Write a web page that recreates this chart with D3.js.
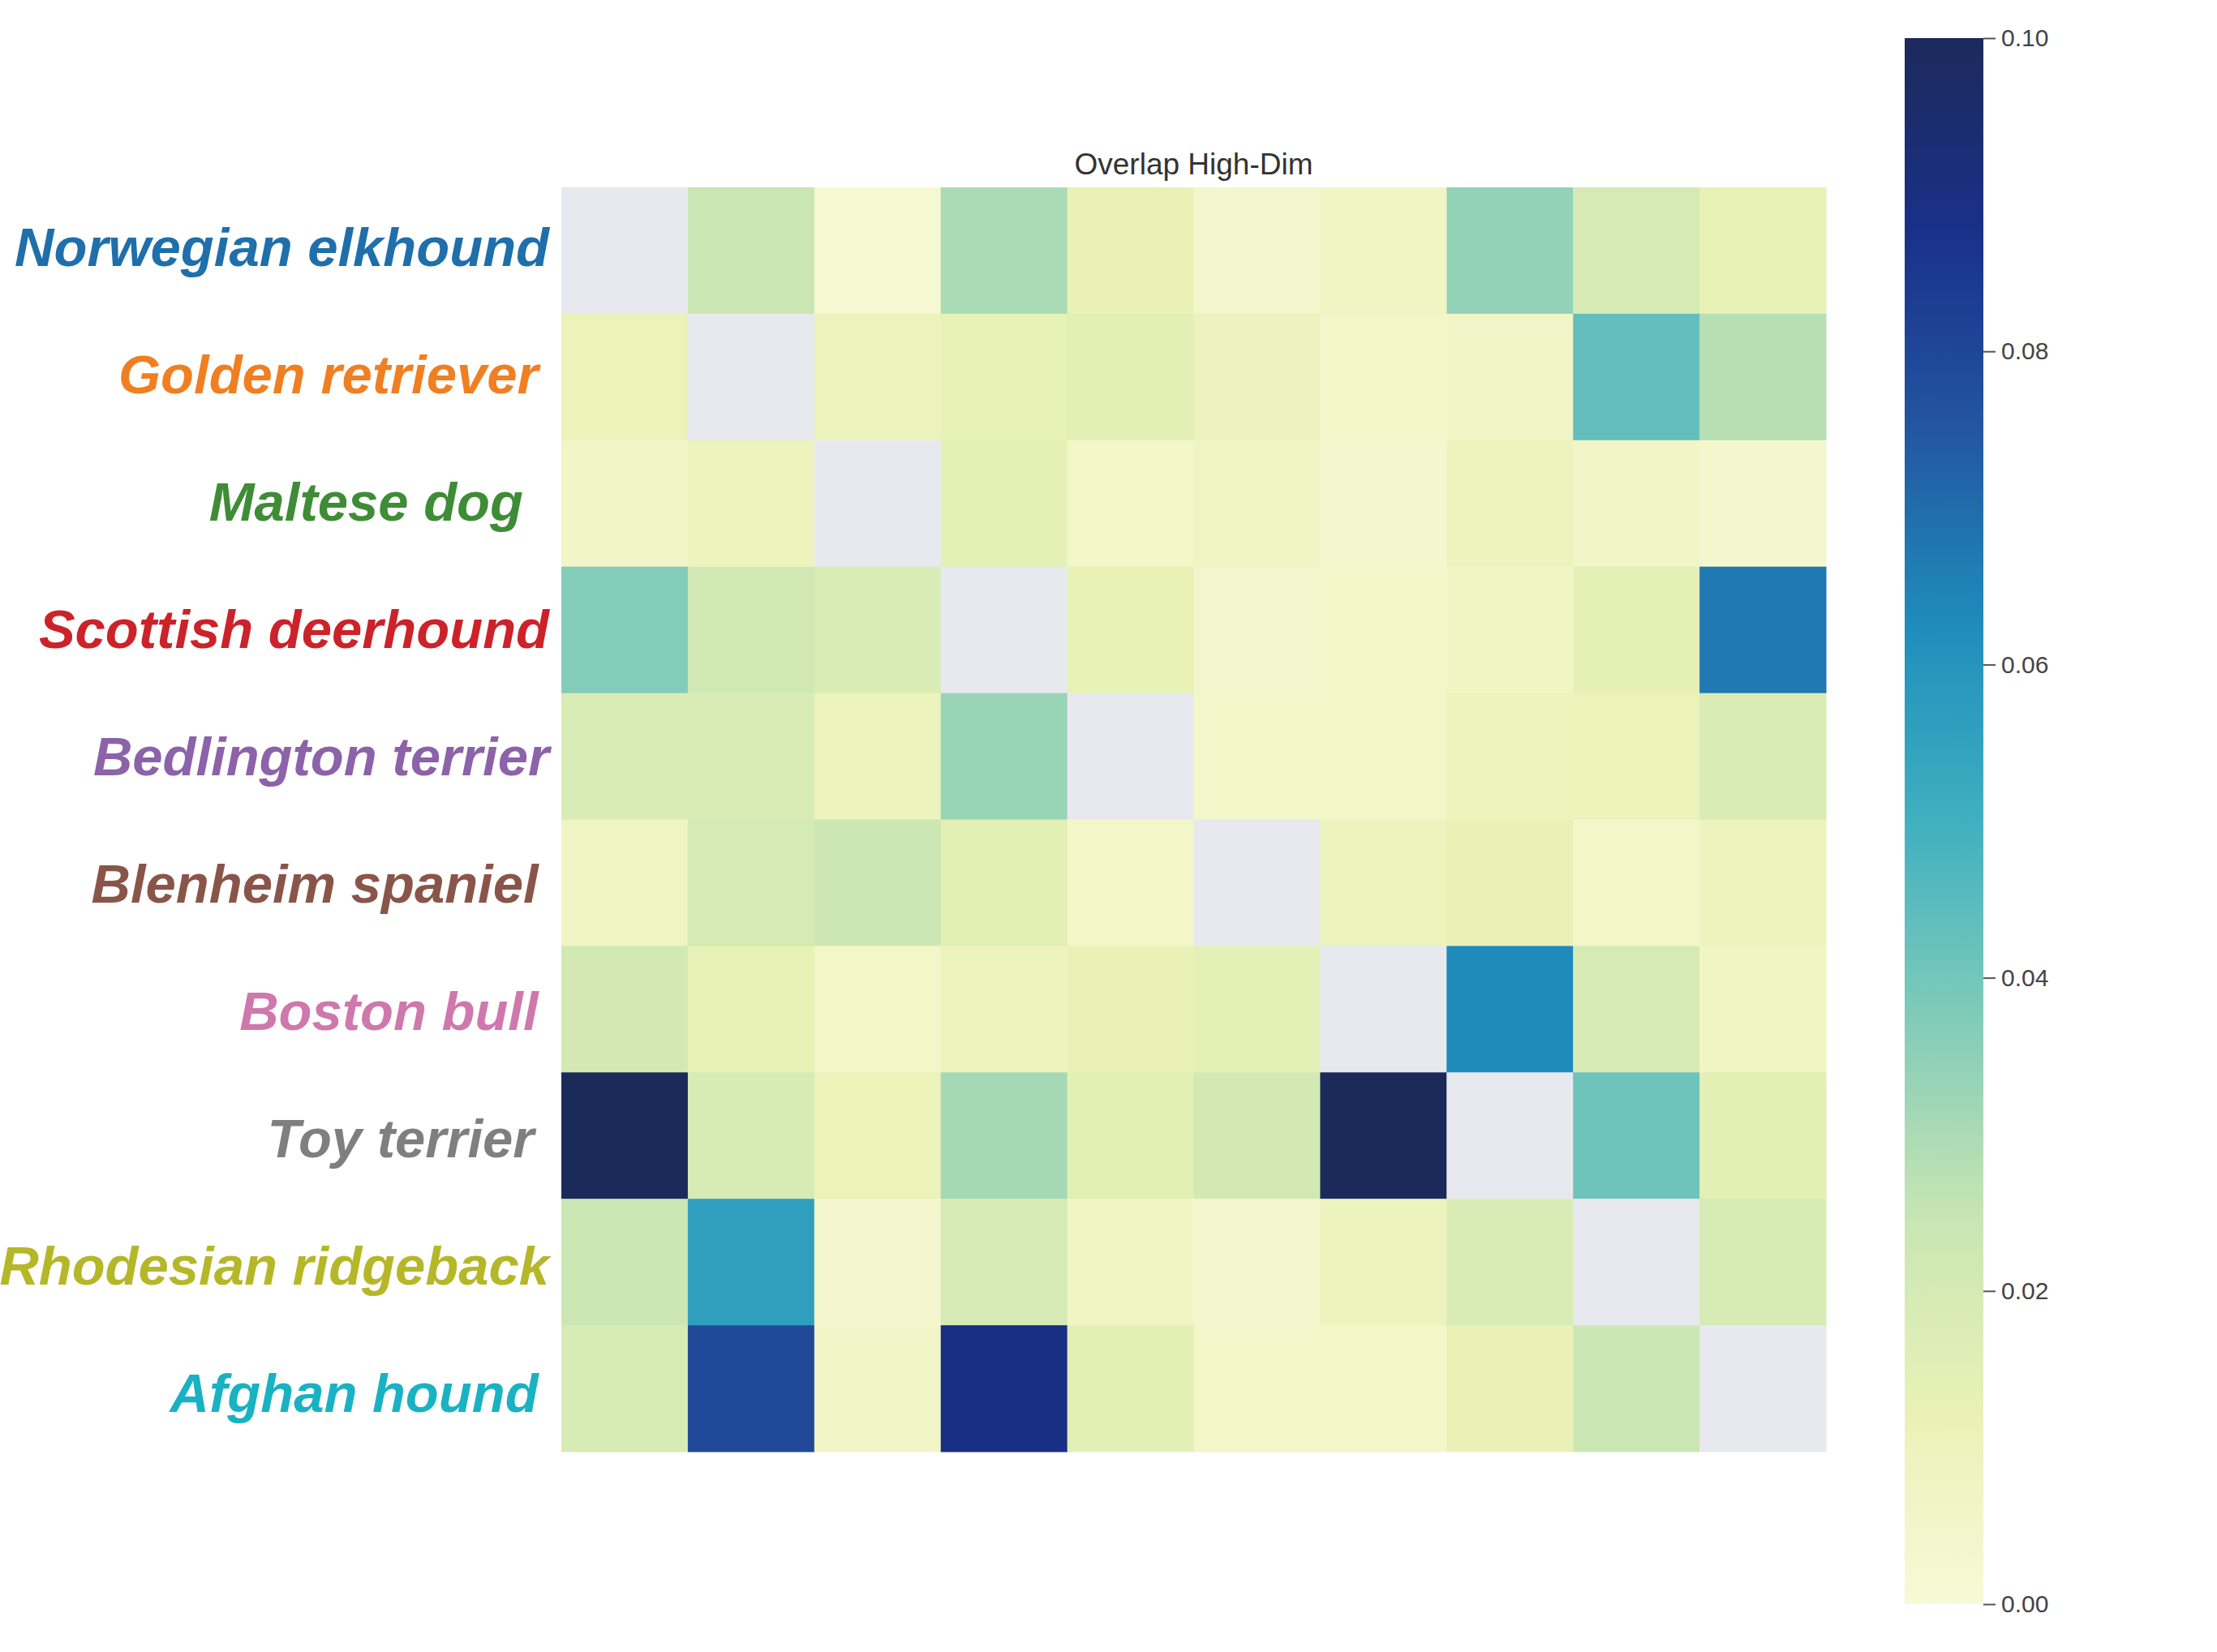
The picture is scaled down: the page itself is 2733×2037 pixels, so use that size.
<!DOCTYPE html>
<html>
<head>
<meta charset="utf-8">
<script src="https://cdn.jsdelivr.net/npm/d3@7"></script>
<style>
  body { margin: 0; background: #fff; }
  text { font-family: "Liberation Sans", Arial, sans-serif; }
</style>
</head>
<body>
<div id="chart"></div>
<script>
// breeds, top to bottom (and left to right for columns)
var breeds = ["Norwegian elkhound", "Golden retriever\u2009", "Maltese dog \u2009", "Scottish deerhound",
    "Bedlington terrier", "Blenheim spaniel\u2009", "Boston bull\u2009", "Toy terrier ", "Rhodesian ridgeback", "Afghan hound\u2009"];
var breedColors = ["#1f6fab", "#f07f22", "#3f8c37", "#cc2229", "#8c62aa", "#8a5549",
    "#cf78ad", "#7f7f7f", "#b6b728", "#19b2c3"];

// overlap values, null on the diagonal
var overlap = [
    [null, 0.024, 0.002, 0.030, 0.012, 0.004, 0.007, 0.034, 0.020, 0.013],
    [0.011, null, 0.010, 0.013, 0.015, 0.009, 0.005, 0.006, 0.043, 0.028],
    [0.006, 0.010, null, 0.014, 0.005, 0.008, 0.003, 0.010, 0.006, 0.003],
    [0.037, 0.022, 0.018, null, 0.013, 0.004, 0.005, 0.007, 0.014, 0.067],
    [0.018, 0.018, 0.010, 0.033, null, 0.005, 0.005, 0.010, 0.011, 0.018],
    [0.008, 0.020, 0.023, 0.015, 0.005, null, 0.010, 0.012, 0.005, 0.010],
    [0.021, 0.013, 0.005, 0.010, 0.012, 0.014, null, 0.063, 0.020, 0.007],
    [0.100, 0.019, 0.011, 0.031, 0.015, 0.021, 0.100, null, 0.041, 0.015],
    [0.023, 0.056, 0.003, 0.020, 0.007, 0.004, 0.010, 0.018, null, 0.019],
    [0.019, 0.079, 0.006, 0.089, 0.015, 0.005, 0.005, 0.012, 0.023, null]
];

var cbTicks = [0, 0.02, 0.04, 0.06, 0.08, 0.10];
var title = "Overlap High-Dim";

var W = 2733, H = 2037;
var svg = d3.select("#chart").append("svg")
    .attr("width", W)
    .attr("height", H);

svg.append("rect").attr("width", W).attr("height", H).attr("fill", "#fff");

// YlGnBu-like ramp, slightly muted like the reference
var ramp = ["#f8f9d6", "#e9f1b6", "#c7e5b3", "#80cbb9", "#40b0c0", "#1f8dbc", "#2356a0", "#19308a", "#1c2a5a"];
var color = d3.scaleLinear()
    .domain(d3.range(ramp.length).map(function (i) { return 0.1 * i / (ramp.length - 1); }))
    .range(ramp)
    .clamp(true);

var x = d3.scaleBand().domain(d3.range(breeds.length)).range([692, 2251]);
var y = d3.scaleBand().domain(d3.range(breeds.length)).range([231, 1790]);
// labels sit on a slightly wider pitch than the cells
var yLab = d3.scalePoint().domain(d3.range(breeds.length)).range([305, 1718]);

var cells = [];
overlap.forEach(function (row, r) {
    row.forEach(function (v, c) { cells.push({ r: r, c: c, v: v }); });
});

svg.append("g").selectAll("rect")
    .data(cells)
    .enter().append("rect")
    .attr("x", function (d) { return x(d.c); })
    .attr("y", function (d) { return y(d.r); })
    .attr("width", x.bandwidth() + 0.5)
    .attr("height", y.bandwidth() + 0.5)
    .attr("fill", function (d) { return d.v == null ? "#e8e9ef" : color(d.v); });

// row labels
svg.append("g").selectAll("text")
    .data(breeds)
    .enter().append("text")
    .attr("x", 677)
    .attr("y", function (d, i) { return yLab(i); })
    .attr("dy", "0.34em")
    .attr("text-anchor", "end")
    .style("white-space", "pre")
    .attr("font-size", 67)
    .attr("font-weight", "bold")
    .attr("font-style", "italic")
    .attr("fill", function (d, i) { return breedColors[i]; })
    .text(function (d) { return d; });

// title
svg.append("text")
    .attr("x", (x.range()[0] + x.range()[1]) / 2)
    .attr("y", 215)
    .attr("text-anchor", "middle")
    .attr("font-size", 37)
    .attr("fill", "#333")
    .text(title);

// colorbar
var cbX = 2348, cbW = 97;
var cbScale = d3.scaleLinear().domain([0, 0.1]).range([1978, 47]);

var grad = svg.append("defs").append("linearGradient")
    .attr("id", "cbgrad")
    .attr("x1", 0).attr("y1", 1).attr("x2", 0).attr("y2", 0);
d3.range(0, 1.0001, 0.02).forEach(function (t) {
    grad.append("stop")
        .attr("offset", t)
        .attr("stop-color", color(t * 0.1));
});

svg.append("rect")
    .attr("x", cbX)
    .attr("y", cbScale(0.1))
    .attr("width", cbW)
    .attr("height", cbScale(0) - cbScale(0.1))
    .attr("fill", "url(#cbgrad)");

var cbAxis = svg.append("g")
    .attr("transform", "translate(" + (cbX + cbW) + ",0)")
    .call(d3.axisRight(cbScale)
        .tickValues(cbTicks)
        .tickFormat(d3.format(".2f"))
        .tickSize(15)
        .tickPadding(7));
cbAxis.select(".domain").remove();
cbAxis.selectAll(".tick line").attr("stroke", "#555").attr("stroke-width", 2);
cbAxis.selectAll(".tick text")
    .attr("font-size", 30)
    .attr("fill", "#444")
    .style("font-family", "'Liberation Sans', Arial, sans-serif");
</script>
</body>
</html>
